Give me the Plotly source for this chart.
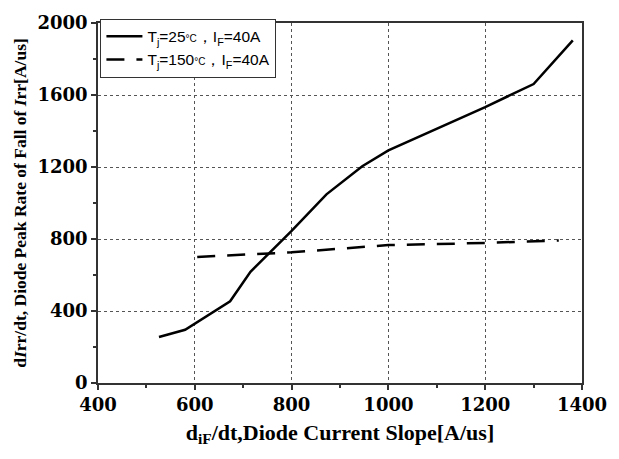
import plotly.graph_objects as go

x25 = [526, 580, 673, 715, 800, 872, 946, 1000, 1200, 1300, 1381]
y25 = [256, 296, 454, 618, 845, 1048, 1204, 1292, 1533, 1661, 1903]
x150 = [605, 800, 1000, 1200, 1352]
y150 = [700, 726, 766, 778, 792]
xticks = [400, 600, 800, 1000, 1200, 1400]
yticks = [0, 400, 800, 1200, 1600, 2000]

name25 = "T<sub>j</sub>=25<span style='font-size:10px'>°C</span>，I<sub>F</sub>=40A"
name150 = "T<sub>j</sub>=150<span style='font-size:10px'>°C</span>，I<sub>F</sub>=40A"

serif = "Liberation Serif, Times New Roman, serif"

fig = go.Figure()
fig.add_trace(go.Scatter(x=x25, y=y25, mode="lines", name=name25,
                         line=dict(color="black", width=2.5)))
fig.add_trace(go.Scatter(x=x150, y=y150, mode="lines", name=name150,
                         line=dict(color="black", width=2.5, dash="18px,12px")))

tfont = dict(family="DejaVu Serif", size=18, color="black", weight="bold")
axcommon = dict(showline=True, linecolor="#333", linewidth=1.5, mirror=True,
                showgrid=True, gridcolor="#555", griddash="dot", gridwidth=1,
                ticks="outside", ticklen=5, tickcolor="#333", tickwidth=1.5,
                tickfont=tfont, zeroline=False)

fig.update_layout(
    width=619, height=459, paper_bgcolor="white", plot_bgcolor="white",
    margin=dict(l=98, r=37, t=18, b=76),
    showlegend=True,
    legend=dict(x=0.005, y=1.012, xanchor="left", yanchor="top",
                bordercolor="#333", borderwidth=1, bgcolor="white",
                font=dict(family="Liberation Sans, Arial, sans-serif", size=15.5, color="black"),
                itemwidth=36, tracegroupgap=0),
    xaxis=dict(range=[400, 1400], tickvals=xticks,
               ticktext=[f"<b>{v}</b>" for v in xticks], **axcommon,
               minor=dict(tickvals=[500, 700, 900, 1100, 1300], ticks="outside",
                          ticklen=3, tickcolor="#333", showgrid=False),
               title=dict(text="<b>d<sub>iF</sub>/dt,Diode Current Slope[A/us]</b>",
                          font=dict(family=serif, size=22, color="black"),
                          standoff=10)),
    yaxis=dict(range=[0, 2000], tickvals=yticks,
               ticktext=[f"<b>{v}</b>" for v in yticks], **axcommon,
               minor=dict(tickvals=[200, 600, 1000, 1400, 1800], ticks="outside",
                          ticklen=3, tickcolor="#333", showgrid=False),
               title=dict(text="<b>d<i>I</i>rr/dt, Diode Peak Rate of Fall of <i>I</i>rr[A/us]</b>",
                          font=dict(family=serif, size=17.5, color="black"),
                          standoff=6)),
)

fig.write_html("out.html")
